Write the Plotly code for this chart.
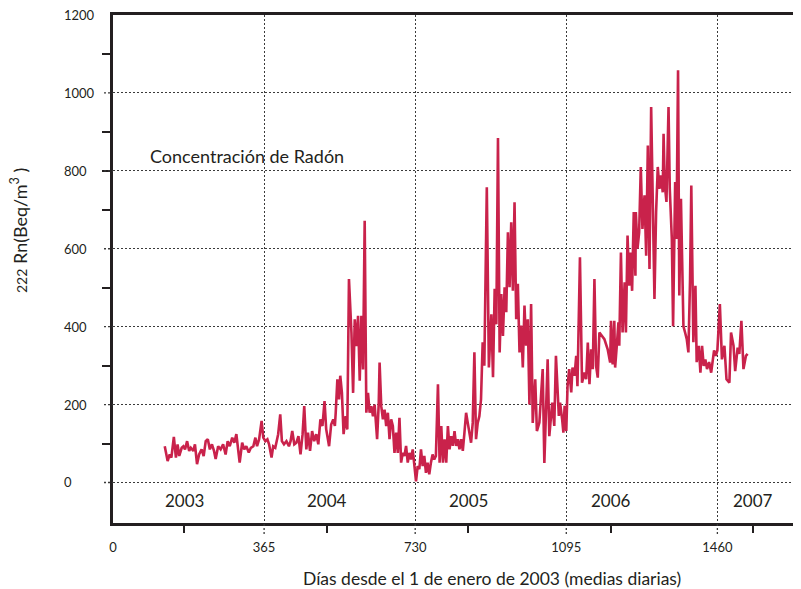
import plotly.graph_objects as go

# ---------------- data ----------------
days_2003 = [125,132,137,141,147,152,156,160,166,170,174,179,184,188,194,198,203,208,214,219,
             224,229,234,239,244,248,254,260,266,272,277,282,288,293,298,303,306,312,317,322,
             328,333,339,344,348,353,359,363,368,373,377,383,387,392,399,404,408,413,419,425,
             429,433,438,443,448,453,458,462,467,471,476,481,486,491,496,501,506,511,515,522,
             527,532,536]
radon_2003 = [93,55,72,64,117,64,98,68,89,93,85,106,81,89,81,98,47,72,85,68,
              106,111,85,98,81,60,93,85,98,72,106,93,115,102,124,72,51,102,85,93,
              77,89,93,115,93,111,158,115,106,111,98,64,93,89,124,175,106,98,106,93,
              106,132,98,102,119,72,124,196,85,128,81,132,106,124,98,162,145,209,137,93,
              149,162,145]

days_2004 = [538,542,546,549,553,557,562,566,570,576,580,584,588,592,596,600,604,608,612,616,
             620,624,628,632,638,642,644,648,652,656,660,664,668,672,676,680,684,688,692,696,
             700,704,708,712,716,720,724,728,732,736,740,744,748,752,756,760,764,768,772,776,
             780,785,789,793,797,801,805,809,813,817,821,825,829,833,837,841,845,849,853,857,
             861,865,869,873,877,881,885,889,893,897]
radon_2004 = [179,265,213,274,230,124,170,136,522,385,230,419,350,428,261,428,290,672,179,230,
              179,196,170,200,111,205,308,196,162,187,145,179,111,162,145,76,128,76,166,51,
              76,68,94,51,76,59,85,51,3,42,34,85,42,68,25,51,21,51,72,59,
              68,252,51,145,51,111,51,145,85,119,94,132,94,111,85,111,81,128,179,153,
              128,102,153,334,111,153,170,213,360,300]

days_2005 = [903,908,914,918,922,926,930,934,938,942,946,950,954,958,962,966,970,974,978,982,
             986,990,994,998,1002,1006,1010,
             1014,1020,1024,1030,1038,1042,1050,1054,1061,1066,1070,1077,1080,1085,1088,1091,1095]
radon_2005 = [758,295,432,270,497,406,884,334,484,376,501,437,642,501,668,492,719,419,510,334,
              403,295,454,351,419,200,458,
              153,265,132,154,291,50,316,119,205,145,325,171,205,162,128,197,132]

days_2006 = [1098,1102,1107,1110,1115,1119,1122,1128,1133,1139,1143,1147,1151,1155,1159,1163,1167,1171,1175,1187,
             1195,1201,1203,1207,1211,1213,1217,1221,1223,
             1227,1231,1236,1239,1243,1247,1250,1254,1258,1262,1263,1267,1271,1275,1279,1284,1288,1292,1296,1300,
             1304,1308,1312,1316,1320,1324,1328,1330,1333,1337,1342,1345,1350,1353,1358,1361,1365,1368,1372,1374,
             1378,1382,1386,1390,1394,1397,1402,1407,1410,1415,1419,1423,1427,1431,1435,1440,1445,1452,1456]
radon_2006 = [247,291,231,295,274,325,247,578,256,282,265,359,252,342,291,522,299,269,385,368,
              342,308,415,303,415,295,351,411,351,
              590,385,514,385,634,505,590,492,694,531,694,600,642,810,651,737,582,865,548,964,
              677,471,694,810,754,788,745,895,763,720,964,754,625,401,771,625,1058,480,728,608,
              401,385,368,334,522,762,360,505,309,351,282,351,299,316,291,309,282,339,325]

days_2007 = [1460,1466,1471,1477,1482,1489,1493,1499,1503,1509,1513,1518,1523,1529,1533]
radon_2007 = [339,458,316,351,265,256,385,351,286,346,330,415,291,325,330]

x_ticks = [0, 365, 730, 1095, 1460]
x_tick_text = ["0", "365", "730", "1095", "1460"]
y_ticks = [0, 200, 400, 600, 800, 1000, 1200]
y_minor = [100, 300, 500, 700, 800, 900, 1100]
year_days = [172, 517, 858, 1203, 1547]
year_labels = ["2003", "2004", "2005", "2006", "2007"]

days = days_2003 + days_2004 + days_2005 + days_2006 + days_2007
radon = radon_2003 + radon_2004 + radon_2005 + radon_2006 + radon_2007

# ---------------- figure ----------------
INK = "#231f20"
GRID = "#3a3a3a"
FONT = "Lato"
# the page body keeps an 8px margin, so the figure is sized to fill the rest
W, H = 793, 581
ML, MR, MT, MB = 105, 0, 7, 66
PW, PH = W - ML - MR, H - MT - MB   # 688 x 508

fig = go.Figure()
fig.add_trace(go.Scatter(x=days, y=radon, mode="lines",
                         line=dict(color="#c9224b", width=2.6),
                         hoverinfo="skip"))

annotations = []
for v in y_ticks:
    annotations.append(dict(x=-51 / PW, xref="paper", y=v, yref="y", text=str(v),
                            xanchor="left", yanchor="middle", showarrow=False,
                            font=dict(family=FONT, size=13, color=INK)))
for d, t in zip(year_days, year_labels):
    annotations.append(dict(x=d, xref="x", y=-46, yref="y", text=t,
                            xanchor="center", yanchor="middle", showarrow=False,
                            font=dict(family=FONT, size=17, color=INK)))
annotations.append(dict(x=85, xref="x", y=838, yref="y", text="Concentración de Radón",
                        xanchor="left", yanchor="middle", showarrow=False,
                        font=dict(family=FONT, size=18, color=INK)))
annotations.append(dict(x=(19 - 113) / PW, xref="paper", y=(523 - 231) / PH, yref="paper",
                        text="<span style='font-size:14px'>222</span> Rn(Beq/m<sup>3</sup> )",
                        textangle=-90, xanchor="center", yanchor="middle", showarrow=False,
                        font=dict(family=FONT, size=18, color=INK)))
annotations.append(dict(x=(492 - 113) / PW, xref="paper", y=(523 - 578) / PH, yref="paper",
                        text="Días desde el 1 de enero de 2003 (medias diarias)",
                        xanchor="center", yanchor="middle", showarrow=False,
                        font=dict(family=FONT, size=17.5, color=INK)))

shapes = []
for v in x_ticks[1:]:
    shapes.append(dict(type="line", xref="x", yref="paper", x0=v, x1=v, y0=-11 / PH, y1=0,
                       line=dict(color=GRID, width=1.3, dash="2px,2px")))
for v in y_ticks[:-1]:
    shapes.append(dict(type="line", xref="paper", yref="y", x0=-9 / PW, x1=0, y0=v, y1=v,
                       line=dict(color=GRID, width=1.3, dash="2px,2px")))

fig.update_layout(
    width=W, height=H,
    margin=dict(l=ML, r=MR, t=MT, b=MB, autoexpand=False),
    paper_bgcolor="white", plot_bgcolor="white",
    showlegend=False,
    font=dict(family=FONT, color=INK),
    annotations=annotations,
    shapes=shapes,
    xaxis=dict(
        range=[0, 1662], tickmode="array", tickvals=x_ticks, ticktext=x_tick_text,
        ticks="outside", ticklen=10, tickcolor="rgba(0,0,0,0)", ticklabelstandoff=0,
        tickfont=dict(family=FONT, size=13, color=INK), automargin=False,
        showgrid=True, gridcolor=GRID, gridwidth=1.3, griddash="2px,2px",
        showline=True, linewidth=3, linecolor=INK, mirror=True, zeroline=False,
        minor=dict(tickmode="array", tickvals=year_days, ticks="outside", ticklen=7,
                   tickwidth=1.5, tickcolor=INK, showgrid=False),
    ),
    yaxis=dict(
        range=[-104, 1200], tickmode="array", tickvals=y_ticks, showticklabels=False,
        ticks="", automargin=False,
        showgrid=True, gridcolor=GRID, gridwidth=1.3, griddash="2px,2px",
        showline=True, linewidth=3, linecolor=INK, mirror=False, zeroline=False,
        minor=dict(tickmode="array", tickvals=y_minor, ticks="outside", ticklen=8,
                   tickwidth=1.5, tickcolor=INK, showgrid=False),
    ),
)

fig.write_html("out.html")
